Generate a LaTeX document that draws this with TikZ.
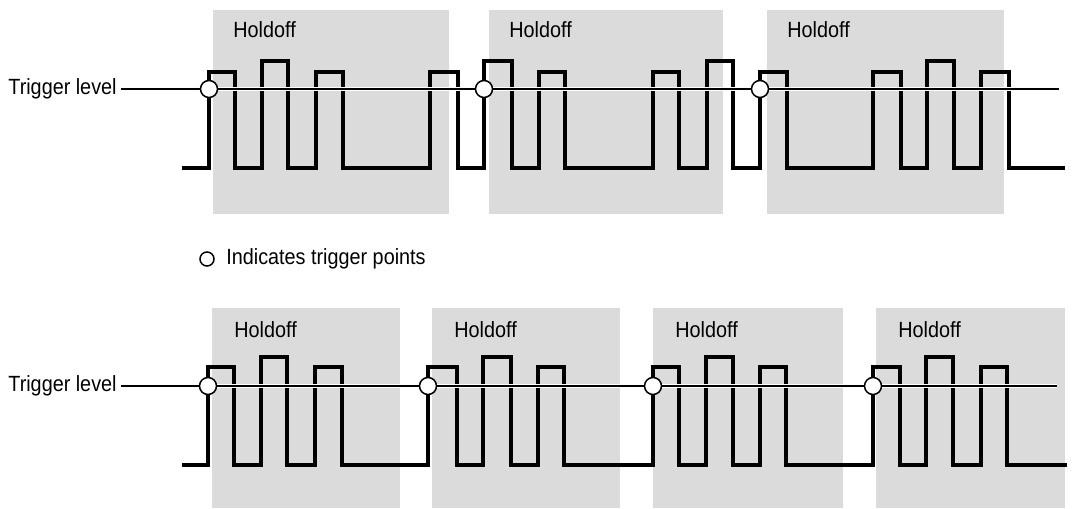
\documentclass[tikz,border=0pt]{standalone}
\usepackage{fontspec}
\newfontfamily\scopefont{Liberation Sans}[FakeStretch=0.9]
\usetikzlibrary{calc}

\begin{document}
\begin{tikzpicture}[x=0.5pt,y=-0.5pt,
  holdbox/.style={fill=black!14,draw=none},
  wave/.style={line width=2.3pt,line join=miter},
  trigline/.style={line width=0.7pt},
  tpoint/.style={circle,draw,fill=white,line width=0.75pt,inner sep=0pt,minimum size=8.5pt},
  lbl/.style={font=\scopefont\fontsize{11}{13}\selectfont,inner sep=0pt}]
\useasboundingbox (0,0) rectangle (1074,508);

% holdoff windows, upper trace
\foreach \l/\r [count=\i] in {213/449,489/723,767/1004}{
  \fill[holdbox] (\l,10) rectangle (\r,214);
  \node[lbl,anchor=base west] (hu\i) at (\l+20,38) {Holdoff};
}
% holdoff windows, lower trace
\foreach \l/\r [count=\i] in {212/400,432/620,653/843,876/1065}{
  \fill[holdbox] (\l,308) rectangle (\r,508);
  \node[lbl,anchor=base west] (hl\i) at (\l+22,337) {Holdoff};
}

% upper trace
\draw[wave] (182,168) -| (209,72) -| (235,168) -| (262,61) -| (288,168)
  -| (316,72) -| (343,168) -| (430,72) -| (458,168) -| (484,61) -| (512,168)
  -| (539,72) -| (565,168) -| (653,72) -| (679,168) -| (707,61) -| (733,168)
  -| (760,72) -| (787,168) -| (873,72) -| (901,168) -| (927,61) -| (954,168)
  -| (981,72) -| (1009,168) -- (1065,168);
% lower trace
\draw[wave] (182,465) -| (208,367) -| (234,465) -| (261,357) -| (287,465)
  -| (315,367) -| (342,465) -| (428,367) -| (457,465) -| (483,357) -| (511,465)
  -| (538,367) -| (564,465) -| (653,367) -| (679,465) -| (706,357) -| (733,465)
  -| (760,367) -| (786,465) -| (873,367) -| (900,465) -| (926,357) -| (953,465)
  -| (981,367) -| (1007,465) -- (1067,465);

% trigger levels
\node[lbl,anchor=east,inner xsep=1.75pt] (tu) at (120.5,89) {Trigger level};
\node[lbl,anchor=east,inner xsep=1.75pt] (tl) at (120.5,386) {Trigger level};
\coordinate (tue) at (1059,89);
\coordinate (tle) at (1057,386);
\draw[white,line width=2pt] (tu.east) -- (tue);
\draw[trigline] (tu.east) -- (tue);
\draw[white,line width=2pt] (tl.east) -- (tle);
\draw[trigline] (tl.east) -- (tle);

% trigger points
\foreach \x [count=\i] in {209,484,760}
  \node[tpoint] (pu\i) at (\x,89) {};
\foreach \x [count=\i] in {208,428,653,873}
  \node[tpoint] (pl\i) at (\x,386) {};

% legend
\node[tpoint,minimum size=7pt] (key) at (207,259) {};
\node[lbl,anchor=west] (keytext) at (226,259) {Indicates trigger points};
\end{tikzpicture}
\end{document}
